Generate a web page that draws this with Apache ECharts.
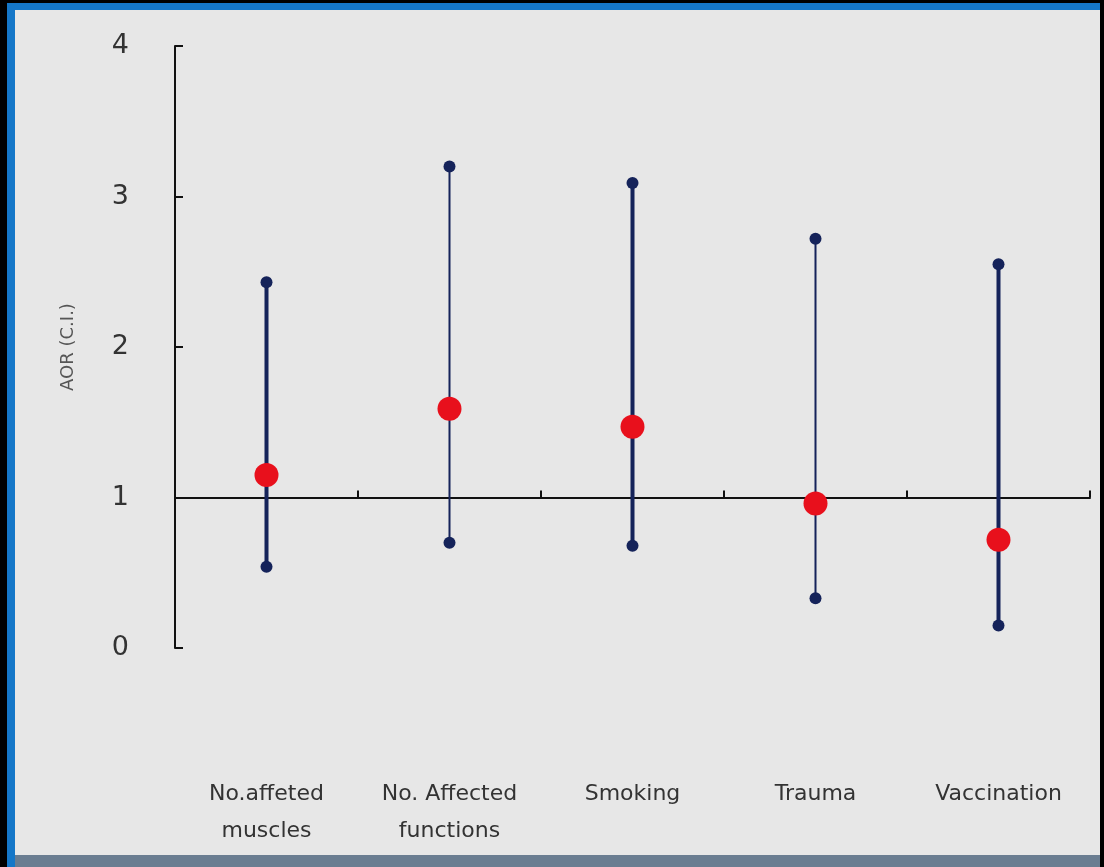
<!DOCTYPE html>
<html>
<head>
<meta charset="utf-8">
<script src="https://cdn.jsdelivr.net/npm/echarts@6/dist/echarts.min.js"></script>
<style>
html,body{margin:0;padding:0;background:#000;}
#frame{position:absolute;left:7px;top:3px;width:1093px;height:864px;background:#1577c8;}
#bottomstrip{position:absolute;left:15px;top:855px;width:1085px;height:12px;background:#6a7d91;}
#chart{position:absolute;left:15px;top:10px;width:1085px;height:845px;background:#e7e7e7;}
</style>
</head>
<body>
<div id="frame"></div>
<div id="chart"></div>
<div id="bottomstrip"></div>
<script>
var categories = ['No.affeted\nmuscles', 'No. Affected\nfunctions', 'Smoking', 'Trauma', 'Vaccination'];
var aor = [1.15, 1.59, 1.47, 0.96, 0.72];
var lower = [0.54, 0.70, 0.68, 0.33, 0.15];
var upper = [2.43, 3.20, 3.09, 2.72, 2.55];
var yTicks = [0, 1, 2, 3, 4];

var barWidths = [4, 2, 4, 2, 4];

var chart = echarts.init(document.getElementById('chart'));
var ciData = categories.map(function (c, i) { return [i, lower[i], upper[i]]; });
var pointData = categories.map(function (c, i) { return [i, aor[i]]; });

chart.setOption({
  animation: false,
  grid: { left: 160, right: 10, top: 36, bottom: 207 },
  xAxis: [
    {
      type: 'category', data: categories, position: 'bottom', offset: -150.5,
      axisLine: { show: true, lineStyle: { color: '#111', width: 2 } },
      axisTick: { show: true, inside: true, length: 7, lineStyle: { color: '#111', width: 2 } },
      axisLabel: { show: false }, splitLine: { show: false }
    },
    {
      type: 'category', data: categories, position: 'bottom',
      axisLine: { show: false }, axisTick: { show: false },
      axisLabel: { show: true, margin: 128, fontSize: 22, lineHeight: 37, color: '#333', fontFamily: 'DejaVu Sans', interval: 0 }
    }
  ],
  yAxis: {
    type: 'value', min: 0, max: 4, interval: 1,
    name: 'AOR (C.I.)', nameLocation: 'middle', nameGap: 98,
    nameTextStyle: { fontSize: 18, color: '#555', fontFamily: 'DejaVu Sans' },
    axisLine: { show: true, lineStyle: { color: '#111', width: 2 } },
    axisTick: { show: true, inside: true, length: 8, lineStyle: { color: '#111', width: 2 } },
    axisLabel: { margin: 46, fontSize: 27, color: '#333', fontFamily: 'DejaVu Sans',
      formatter: function (v) { return yTicks.indexOf(v) >= 0 ? String(v) : ''; } },
    splitLine: { show: false }
  },
  series: [
    {
      type: 'custom', xAxisIndex: 0, data: ciData, z: 2,
      renderItem: function (params, api) {
        var i = api.value(0);
        var lo = api.coord([i, api.value(1)]);
        var hi = api.coord([i, api.value(2)]);
        var col = '#15235a';
        return {
          type: 'group',
          children: [
            { type: 'line', shape: { x1: lo[0], y1: lo[1], x2: hi[0], y2: hi[1] }, style: { stroke: col, lineWidth: barWidths[params.dataIndex] } },
            { type: 'circle', shape: { cx: lo[0], cy: lo[1], r: 6 }, style: { fill: col } },
            { type: 'circle', shape: { cx: hi[0], cy: hi[1], r: 6 }, style: { fill: col } }
          ]
        };
      }
    },
    {
      type: 'scatter', xAxisIndex: 0, data: pointData, symbolSize: 24, z: 3,
      itemStyle: { color: '#e8101c', opacity: 1 }
    }
  ]
});
</script>
</body>
</html>
